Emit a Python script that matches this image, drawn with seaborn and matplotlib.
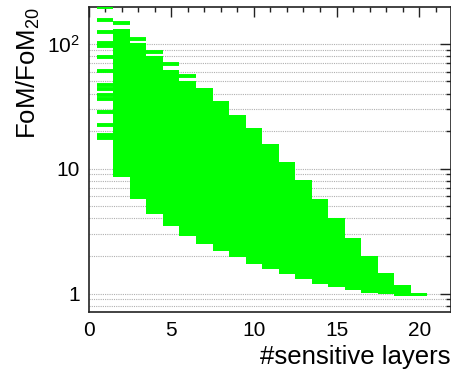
import numpy as np
import pandas as pd
import seaborn as sns
import matplotlib
matplotlib.use("Agg")
import matplotlib.pyplot as plt
from matplotlib.ticker import FixedLocator, FixedFormatter, MultipleLocator, NullFormatter

# ---- data ----
# filled band (lowest / highest FoM ratio) per number of sensitive layers
band_layers = [2, 3, 4, 5, 6, 7, 8, 9, 10, 11, 12, 13, 14, 15, 16, 17, 18, 19, 20]
band_low = [8.55, 5.72, 4.31, 3.47, 2.89, 2.49, 2.19, 1.95, 1.74, 1.59,
            1.43, 1.30, 1.20, 1.14, 1.077, 1.019, 0.987, 0.956, 0.951]
band_high = [130.3, 100.6, 79.5, 62.2, 50.1, 44.3, 34.6, 27.0, 21.1, 15.7,
             11.3, 8.13, 5.69, 4.00, 2.80, 1.99, 1.475, 1.181, 1.011]

# isolated configurations (single entries)
single_layers = [1, 1, 1, 1, 1, 1, 1, 1, 1, 1, 1, 1, 1, 1, 1, 2, 3, 4, 5, 6]
single_values = [196.8, 153.9, 123.9, 102.1, 96.9, 78.3, 60.7, 46.9, 43.4,
                 38.8, 36.2, 28.7, 22.4, 18.7, 17.6, 147.5, 108.3, 86.3, 69.2, 54.9]

x_ticks = [0, 5, 10, 15, 20]
y_major = [1, 10, 100]
y_major_labels = ["1", "10", "$10^2$"]
y_minor = [0.8, 0.9, 2, 3, 4, 5, 6, 7, 8, 9, 20, 30, 40, 50, 60, 70, 80, 90]

band = pd.DataFrame({"layers": band_layers, "low": band_low, "high": band_high})
singles = pd.DataFrame({"layers": single_layers, "value": single_values})

# ---- style ----
sns.set_style("white")
plt.rcParams["font.family"] = ["Liberation Sans", "DejaVu Sans"]
plt.rcParams["mathtext.fontset"] = "custom"
plt.rcParams["mathtext.rm"] = "Liberation Sans"
plt.rcParams["mathtext.it"] = "Liberation Sans:italic"
plt.rcParams["mathtext.bf"] = "Liberation Sans:bold"
plt.rcParams["text.color"] = "black"
plt.rcParams["axes.labelcolor"] = "black"
plt.rcParams["xtick.labelcolor"] = "black"
plt.rcParams["ytick.labelcolor"] = "black"

green = "#00ff00"
fig = plt.figure(figsize=(4.52, 3.76), dpi=100)
ax = fig.add_axes([0.1958, 0.1694, 0.8012, 0.812])

ax.set_yscale("log")
ax.bar(band["layers"], band["high"] - band["low"], bottom=band["low"], width=1.0,
       color=green, linewidth=0, zorder=3)
ax.hlines(singles["value"], singles["layers"] - 0.5, singles["layers"] + 0.5,
          color=green, linewidth=2.8, zorder=3)

ax.set_xlim(0, 21.9)
ax.set_ylim(0.71, 197)

ax.xaxis.set_major_locator(FixedLocator(x_ticks))
ax.xaxis.set_minor_locator(MultipleLocator(1))
ax.yaxis.set_major_locator(FixedLocator(y_major))
ax.yaxis.set_major_formatter(FixedFormatter(y_major_labels))
ax.yaxis.set_minor_locator(FixedLocator(y_minor))
ax.yaxis.set_minor_formatter(NullFormatter())

ax.yaxis.grid(True, which="both", linestyle=(0, (1, 1)), color="#b0b0b0", linewidth=0.8, zorder=1)
ax.xaxis.grid(False)
ax.set_axisbelow(True)

for s in ax.spines.values():
    s.set_color("#222222")
    s.set_linewidth(1.2)

ax.tick_params(which="both", direction="in", top=True, right=True, color="#222222", width=1.0)
ax.tick_params(axis="y", which="major", length=8, pad=6, labelsize=15)
ax.tick_params(axis="y", which="minor", length=3.8)
ax.tick_params(axis="x", which="major", length=7, pad=6, labelsize=15)
ax.tick_params(axis="x", which="minor", length=3.4)

ax.set_xlabel("#sensitive layers", fontsize=18.5, loc="right", labelpad=4, color="black")
ax.set_ylabel("FoM/FoM$_{20}$", fontsize=18.5, loc="top", labelpad=4, color="black")

fig.savefig("out.png", dpi=100)
